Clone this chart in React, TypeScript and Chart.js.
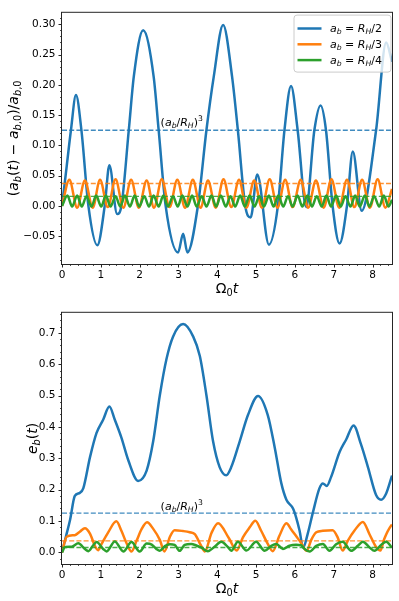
import React, { useEffect, useRef } from 'react';
import { Chart, registerables } from 'chart.js';

Chart.register(...registerables);

// ---------------- data ----------------
const T_MAX = 8.5;
const xTickValues = [0, 1, 2, 3, 4, 5, 6, 7, 8];
const refLevels = [0.125, 0.037, 0.0156]; // (a_b/R_H)^3 for R_H/2, R_H/3, R_H/4
const legendDenoms = ['2', '3', '4'];

// top panel: (a_b(t) - a_b,0)/a_b,0
const blueTopT = [0, 0.12, 0.23, 0.36, 0.50, 0.68, 0.91, 1.10, 1.22, 1.42, 1.53, 1.72, 1.85, 2.09, 2.36, 2.49, 2.67, 2.99, 3.12, 3.23, 3.50, 3.72, 3.91, 4.15, 4.38, 4.53, 4.72, 4.86, 5.03, 5.33, 5.56, 5.73, 5.90, 6.07, 6.29, 6.50, 6.66, 6.80, 6.97, 7.15, 7.34, 7.49, 7.72, 8.09, 8.35, 8.50];
const blueTopV = [0, 0.065, 0.125, 0.183, 0.125, 0, -0.065, 0, 0.067, -0.0135, 0, 0.125, 0.214, 0.290, 0.214, 0.125, 0, -0.077, -0.046, -0.077, 0, 0.125, 0.214, 0.299, 0.214, 0.125, 0, -0.019, 0.052, -0.064, 0, 0.125, 0.198, 0.125, -0.002, 0.125, 0.166, 0.125, 0, -0.062, 0, 0.090, -0.008, 0.125, 0.270, 0.238];

const orangeTopT = [0, 0.19, 0.39, 0.59, 0.79, 0.98, 1.18, 1.38, 1.58, 1.78, 1.98, 2.18, 2.37, 2.57, 2.77, 2.97, 3.17, 3.37, 3.57, 3.76, 3.96, 4.16, 4.36, 4.56, 4.75, 4.95, 5.15, 5.35, 5.55, 5.75, 5.94, 6.15, 6.34, 6.54, 6.74, 6.94, 7.14, 7.34, 7.53, 7.73, 7.93, 8.13, 8.33, 8.50];
const orangeTopV = [0,
  0.043, -0.003, 0.042, -0.003, 0.043, -0.002, 0.044, -0.003, 0.043, -0.003,
  0.042, -0.003, 0.044, -0.002, 0.043, -0.003, 0.043, -0.003, 0.042, -0.003,
  0.044, -0.002, 0.043, -0.003, 0.042, -0.003, 0.044, -0.003, 0.043, -0.002,
  0.043, -0.003, 0.042, -0.003, 0.044, -0.003, 0.043, -0.002, 0.043, -0.003,
  0.044, -0.003,
  0.028];

const greenTopT = [0,
  0.14, 0.26, 0.39, 0.51, 0.63, 0.76, 0.88, 1.01, 1.13, 1.25,
  1.38, 1.50, 1.62, 1.75, 1.87, 1.99, 2.12, 2.24, 2.36, 2.49,
  2.61, 2.73, 2.86, 2.98, 3.10, 3.23, 3.35, 3.47, 3.60, 3.72,
  3.85, 3.97, 4.09, 4.22, 4.34, 4.46, 4.59, 4.71, 4.83, 4.96,
  5.08, 5.20, 5.33, 5.45, 5.57, 5.70, 5.82, 5.94, 6.07, 6.19,
  6.32, 6.44, 6.56, 6.69, 6.81, 6.93, 7.06, 7.18, 7.30, 7.43,
  7.55, 7.67, 7.80, 7.92, 8.04, 8.17, 8.29, 8.41,
  8.50];
const greenTopV = [0,
  0.017, -0.001, 0.017, -0.001, 0.016, -0.001, 0.017, -0.001, 0.017, -0.001,
  0.016, -0.001, 0.017, -0.001, 0.017, -0.001, 0.016, -0.001, 0.017, -0.001,
  0.017, -0.001, 0.016, -0.001, 0.017, -0.001, 0.017, -0.001, 0.016, -0.001,
  0.017, -0.001, 0.017, -0.001, 0.016, -0.001, 0.017, -0.001, 0.017, -0.001,
  0.016, -0.001, 0.017, -0.001, 0.017, -0.001, 0.016, -0.001, 0.017, -0.001,
  0.017, -0.001, 0.016, -0.001, 0.017, -0.001, 0.017, -0.001, 0.016, -0.001,
  0.017, -0.001, 0.017, -0.001, 0.016, -0.001, 0.017, -0.001,
  0.010];

// bottom panel: e_b(t)
const blueBotT = [0, 0.10, 0.21, 0.33, 0.46, 0.55, 0.72, 0.89, 1.06, 1.22, 1.36, 1.53, 1.71, 1.96, 2.18, 2.35, 2.52, 2.69, 2.86, 3.12, 3.38, 3.55, 3.72, 3.89, 4.06, 4.23, 4.36, 4.58, 4.79, 5.05, 5.30, 5.48, 5.65, 5.78, 5.95, 6.03, 6.12, 6.21, 6.33, 6.46, 6.63, 6.72, 6.82, 6.93, 7.15, 7.32, 7.51, 7.70, 7.88, 8.09, 8.22, 8.35, 8.50];
const blueBotV = [0, 0.050, 0.105, 0.180, 0.190, 0.205, 0.303, 0.381, 0.423, 0.465, 0.423, 0.366, 0.293, 0.228, 0.261, 0.355, 0.501, 0.616, 0.688, 0.728, 0.688, 0.626, 0.501, 0.355, 0.272, 0.246, 0.272, 0.355, 0.438, 0.499, 0.438, 0.334, 0.220, 0.168, 0.140, 0.112, 0.069, 0.015, 0.060, 0.126, 0.204, 0.220, 0.212, 0.240, 0.320, 0.360, 0.405, 0.345, 0.272, 0.183, 0.168, 0.188, 0.245];

const orangeBotT = [0, 0.12, 0.33, 0.46, 0.59, 0.72, 0.85, 0.93, 1.02, 1.19, 1.40, 1.53, 1.66, 1.79, 1.92, 2.05, 2.19, 2.35, 2.52, 2.64, 2.78, 2.90, 3.12, 3.29, 3.42, 3.58, 3.68, 3.85, 4.02, 4.30, 4.50, 4.66, 4.83, 4.98, 5.13, 5.30, 5.43, 5.60, 5.78, 5.90, 6.03, 6.16, 6.30, 6.42, 6.55, 6.72, 6.97, 7.10, 7.23, 7.36, 7.53, 7.75, 7.92, 8.09, 8.20, 8.30, 8.48, 8.50];
const orangeBotV = [0, 0.050, 0.055, 0.066, 0.077, 0.060, 0.020, 0.007, 0.027, 0.064, 0.099, 0.069, 0.030, 0.003, 0.037, 0.074, 0.096, 0.075, 0.040, 0.003, 0.050, 0.071, 0.068, 0.064, 0.058, 0.022, 0.003, 0.062, 0.093, 0.045, 0.006, 0.048, 0.079, 0.101, 0.069, 0.027, 0.004, 0.053, 0.093, 0.074, 0.052, 0.030, 0.005, 0.040, 0.064, 0.069, 0.071, 0.048, 0.006, 0.037, 0.069, 0.097, 0.058, 0.017, 0.006, 0.043, 0.086, 0.088];

const greenBotT = [0, 0.08, 0.25, 0.42, 0.59, 0.68, 0.80, 0.89, 1.06, 1.15, 1.36, 1.58, 1.79, 2.00, 2.18, 2.31, 2.43, 2.52, 2.65, 2.78, 2.90, 3.03, 3.16, 3.33, 3.46, 3.59, 3.76, 3.93, 4.10, 4.28, 4.36, 4.53, 4.75, 5.00, 5.22, 5.39, 5.52, 5.69, 5.86, 6.03, 6.16, 6.25, 6.38, 6.55, 6.72, 6.89, 7.06, 7.23, 7.45, 7.62, 7.75, 7.92, 8.05, 8.22, 8.35, 8.50];
const greenBotV = [0, 0.017, 0.018, 0.029, 0.011, 0.004, 0.022, 0.033, 0.011, 0.003, 0.035, 0.003, 0.033, 0.003, 0.028, 0.025, 0.011, 0.005, 0.020, 0.026, 0.024, 0.005, 0.024, 0.027, 0.022, 0.015, 0.004, 0.018, 0.034, 0.016, 0.005, 0.034, 0.006, 0.034, 0.005, 0.021, 0.027, 0.011, 0.021, 0.024, 0.023, 0.011, 0.003, 0.021, 0.027, 0.005, 0.026, 0.034, 0.005, 0.021, 0.034, 0.016, 0.005, 0.024, 0.034, 0.015];

// axis ranges
const topYRange = [-0.096, 0.319];
const botYRange = [-0.037, 0.764];
const refTextPos = { top: [2.54, 0.132], bot: [2.54, 0.136] };

// ---------------- style ----------------
const FONT = '"DejaVu Sans", "Liberation Sans", sans-serif';
const COLORS = ['#1f77b4', '#ff7f0e', '#2ca02c'];
const DASH_COLORS = ['rgba(31,119,180,0.85)', 'rgba(255,127,14,0.85)', 'rgba(44,160,44,0.85)'];

type Seg = [string, string];

function segFont(st: string, size: number) {
  const small = st.includes('s') || st.includes('p');
  return `${st.includes('i') ? 'italic ' : ''}${small ? size * 0.7 : size}px ${FONT}`;
}

function drawRich(ctx: CanvasRenderingContext2D, segs: Seg[], x: number, y: number, size: number, align: string) {
  const widths = segs.map(([t, st]) => {
    ctx.font = segFont(st, size);
    return ctx.measureText(t).width;
  });
  const total = widths.reduce((a, b) => a + b, 0);
  let cx = align === 'center' ? x - total / 2 : align === 'right' ? x - total : x;
  ctx.textAlign = 'left';
  ctx.textBaseline = 'alphabetic';
  segs.forEach(([t, st], i) => {
    ctx.font = segFont(st, size);
    const dy = st.includes('s') ? size * 0.22 : st.includes('p') ? -size * 0.42 : 0;
    ctx.fillText(t, cx, y + dy);
    cx += widths[i];
  });
  return total;
}

const topYLabel: Seg[] = [['(', 'n'], ['a', 'i'], ['b', 'is'], ['(', 'n'], ['t', 'i'], [') \u2212 ', 'n'], ['a', 'i'], ['b', 'is'], [',0', 'ns'], [')/', 'n'], ['a', 'i'], ['b', 'is'], [',0', 'ns']];
const botYLabel: Seg[] = [['e', 'i'], ['b', 'is'], ['(', 'n'], ['t', 'i'], [')', 'n']];
const xLabel: Seg[] = [['\u03a9', 'n'], ['0', 'ns'], ['t', 'i']];
const refLabel: Seg[] = [['(', 'n'], ['a', 'i'], ['b', 'is'], ['/', 'n'], ['R', 'i'], ['H', 'is'], [')', 'n'], ['3', 'np']];
const legendLabel = (d: string): Seg[] => [['a', 'i'], ['b', 'is'], [' = ', 'n'], ['R', 'i'], ['H', 'is'], ['/' + d, 'n']];

interface DecorCfg {
  yLabel: Seg[];
  yLabelX: number;
  xLabelDy: number;
  yMinor: number;
  refPos: number[];
  legend: boolean;
}

function makeDecor(cfg: DecorCfg) {
  return {
    id: 'decor',
    afterDraw(chart: any) {
      const ctx: CanvasRenderingContext2D = chart.ctx;
      const ca = chart.chartArea;
      const xs = chart.scales.x;
      const ys = chart.scales.y;
      ctx.save();
      // frame
      ctx.strokeStyle = '#262626';
      ctx.lineWidth = 1;
      ctx.strokeRect(ca.left - 0.5, ca.top - 0.5, ca.right - ca.left + 1, ca.bottom - ca.top + 1);
      // ticks
      ctx.beginPath();
      xTickValues.forEach((v) => {
        const px = Math.round(xs.getPixelForValue(v)) + 0.5;
        ctx.moveTo(px, ca.bottom);
        ctx.lineTo(px, ca.bottom + 3.5);
      });
      ys.ticks.forEach((t: any) => {
        const py = Math.round(ys.getPixelForValue(t.value)) + 0.5;
        ctx.moveTo(ca.left, py);
        ctx.lineTo(ca.left - 3.5, py);
      });
      ctx.stroke();
      ctx.beginPath();
      ctx.lineWidth = 0.8;
      for (let k = 1; k * 0.2 < T_MAX; k++) {
        if (k % 5 === 0) continue;
        const px = Math.round(xs.getPixelForValue(k * 0.2)) + 0.5;
        ctx.moveTo(px, ca.bottom);
        ctx.lineTo(px, ca.bottom + 2);
      }
      const kMin = Math.ceil(ys.min / cfg.yMinor);
      const kMax = Math.floor(ys.max / cfg.yMinor);
      for (let k = kMin; k <= kMax; k++) {
        if (k % 5 === 0) continue;
        const py = Math.round(ys.getPixelForValue(k * cfg.yMinor)) + 0.5;
        ctx.moveTo(ca.left, py);
        ctx.lineTo(ca.left - 2, py);
      }
      ctx.stroke();

      ctx.fillStyle = '#000';
      // x label
      drawRich(ctx, xLabel, (ca.left + ca.right) / 2, ca.bottom + cfg.xLabelDy + 5, 14, 'center');
      // y label
      ctx.save();
      ctx.translate(cfg.yLabelX, (ca.top + ca.bottom) / 2);
      ctx.rotate(-Math.PI / 2);
      drawRich(ctx, cfg.yLabel, 0, 5, 14, 'center');
      ctx.restore();
      // reference annotation
      drawRich(ctx, refLabel, xs.getPixelForValue(cfg.refPos[0]), ys.getPixelForValue(cfg.refPos[1]), 11, 'left');

      // legend
      if (cfg.legend) {
        const w = 97;
        const h = 57;
        const left = ca.right - 98;
        const top = ca.top + 2.3;
        const r = 3;
        ctx.beginPath();
        ctx.moveTo(left + r, top);
        ctx.lineTo(left + w - r, top);
        ctx.arcTo(left + w, top, left + w, top + r, r);
        ctx.lineTo(left + w, top + h - r);
        ctx.arcTo(left + w, top + h, left + w - r, top + h, r);
        ctx.lineTo(left + r, top + h);
        ctx.arcTo(left, top + h, left, top + h - r, r);
        ctx.lineTo(left, top + r);
        ctx.arcTo(left, top, left + r, top, r);
        ctx.closePath();
        ctx.fillStyle = 'rgba(255,255,255,0.8)';
        ctx.fill();
        ctx.strokeStyle = '#cccccc';
        ctx.lineWidth = 1;
        ctx.stroke();
        legendDenoms.forEach((d, i) => {
          const cy = top + 13.4 + i * 15.8;
          ctx.strokeStyle = COLORS[i];
          ctx.lineWidth = 2.5;
          ctx.beginPath();
          ctx.moveTo(left + 3.5, cy);
          ctx.lineTo(left + 27.5, cy);
          ctx.stroke();
          ctx.fillStyle = '#000';
          drawRich(ctx, legendLabel(d), left + 36, cy + 3.5, 11, 'left');
        });
      }
      ctx.restore();
    },
  };
}

function pts(t: number[], v: number[]) {
  const n = Math.min(t.length, v.length);
  const out: { x: number; y: number }[] = [];
  for (let i = 0; i < n; i++) out.push({ x: t[i], y: v[i] });
  return out;
}

function buildConfig(series: { x: number; y: number }[][], yRange: number[], yStep: number, yDigits: number, xAxisH: number, decor: DecorCfg): any {
  const datasets: any[] = [];
  series.forEach((data, i) => {
    datasets.push({
      data,
      borderColor: COLORS[i],
      borderWidth: 2.5,
      pointRadius: 0,
      cubicInterpolationMode: 'monotone',
      fill: false,
      borderJoinStyle: 'round',
      order: 5 - 2 * i,
    });
    datasets.push({
      data: [{ x: 0, y: refLevels[i] }, { x: T_MAX, y: refLevels[i] }],
      borderColor: DASH_COLORS[i],
      borderWidth: 1.3,
      borderDash: [5, 2.2],
      pointRadius: 0,
      fill: false,
      order: 4 - 2 * i,
    });
  });
  return {
    type: 'line',
    data: { datasets },
    options: {
      responsive: false,
      animation: false,
      devicePixelRatio: 1,
      events: [],
      layout: { padding: { top: 7, right: 7, left: 0, bottom: 0 } },
      plugins: { legend: { display: false }, tooltip: { enabled: false } },
      scales: {
        x: {
          type: 'linear',
          min: 0,
          max: T_MAX,
          grid: { display: false, drawTicks: false },
          border: { display: false },
          ticks: {
            stepSize: 1,
            includeBounds: false,
            padding: 5,
            color: '#000',
            font: { family: FONT, size: 10.5 },
            maxRotation: 0,
            callback: (v: number) => String(v),
          },
          afterFit: (s: any) => { s.height = xAxisH; },
        },
        y: {
          type: 'linear',
          min: yRange[0],
          max: yRange[1],
          grid: { display: false, drawTicks: false },
          border: { display: false },
          ticks: {
            stepSize: yStep,
            includeBounds: false,
            padding: 6.5,
            color: '#000',
            font: { family: FONT, size: 10.5 },
            callback: (v: number) => {
              const s = Math.abs(v).toFixed(yDigits);
              return v < -1e-9 ? '\u2212' + s : s;
            },
          },
          afterFit: (s: any) => { s.width = 62; },
        },
      },
    },
    plugins: [makeDecor(decor)],
  };
}

export default function App() {
  const topRef = useRef<HTMLCanvasElement>(null);
  const botRef = useRef<HTMLCanvasElement>(null);

  useEffect(() => {
    const top = new Chart(
      topRef.current as HTMLCanvasElement,
      buildConfig(
        [pts(blueTopT, blueTopV), pts(orangeTopT, orangeTopV), pts(greenTopT, greenTopV)],
        topYRange, 0.05, 2, 36,
        { yLabel: topYLabel, yLabelX: 12.5, xLabelDy: 23.5, yMinor: 0.01, refPos: refTextPos.top, legend: true },
      ),
    );
    const bot = new Chart(
      botRef.current as HTMLCanvasElement,
      buildConfig(
        [pts(blueBotT, blueBotV), pts(orangeBotT, orangeBotV), pts(greenBotT, greenBotV)],
        botYRange, 0.1, 1, 37,
        { yLabel: botYLabel, yLabelX: 32, xLabelDy: 24, yMinor: 0.02, refPos: refTextPos.bot, legend: false },
      ),
    );
    return () => {
      top.destroy();
      bot.destroy();
    };
  }, []);

  return (
    <div style={{ position: 'absolute', left: 0, top: 0, width: 399, height: 601, background: '#fff' }}>
      <canvas ref={topRef} width={399} height={300} style={{ display: 'block' }} />
      <canvas ref={botRef} width={399} height={301} style={{ display: 'block' }} />
    </div>
  );
}
